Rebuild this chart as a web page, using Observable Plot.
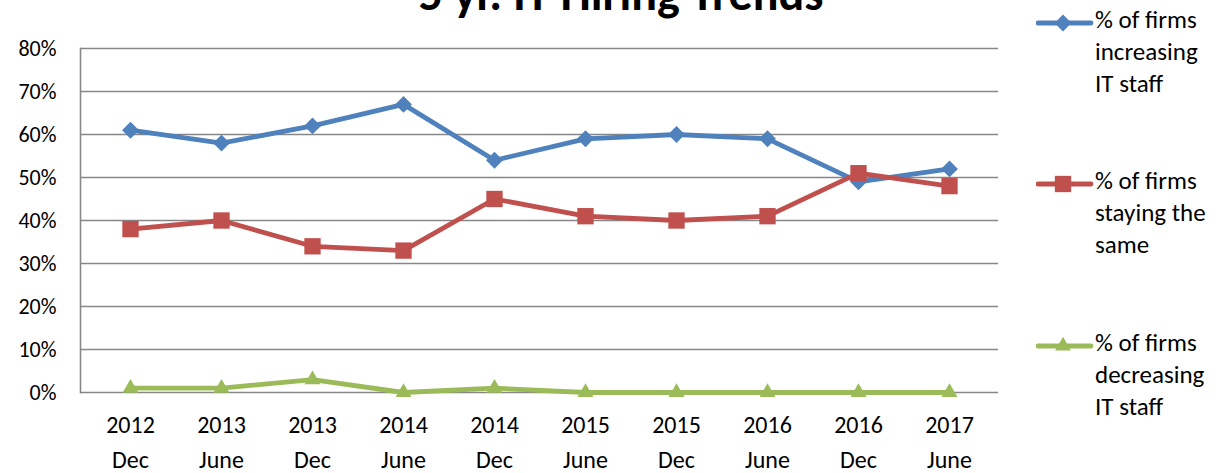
<!DOCTYPE html>
<html>
<head>
<meta charset="utf-8">
<script src="https://cdn.jsdelivr.net/npm/d3@7"></script>
<script src="https://cdn.jsdelivr.net/npm/@observablehq/plot@0.6"></script>
<style>
  html, body { margin: 0; padding: 0; background: #fff; }
  body { width: 1218px; height: 473px; overflow: hidden; position: relative; font-family: Carlito, Lato, "Open Sans", sans-serif; }
  #title { position: absolute; left: 0; width: 1242px; text-align: center; top: -30px; font-size: 48px; font-weight: bold; color: #000; line-height: 1; white-space: nowrap; }
  #chart { position: absolute; left: 0; top: 0; }
  .leg { position: absolute; left: 1036px; font-size: 25px; line-height: 32px; color: #000; }
  .leg svg { position: absolute; left: 0; top: 8px; }
  .leg div { margin-left: 59px; white-space: nowrap; }
</style>
</head>
<body>
<div id="title">5 yr. IT Hiring Trends</div>
<div id="chart"></div>
<div id="legend"></div>
<script>
const periods = ["2012\nDec","2013\nJune","2013\nDec","2014\nJune","2014\nDec","2015\nJune","2015\nDec","2016\nJune","2016\nDec","2017\nJune"];
const increasing = [61, 58, 62, 67, 54, 59, 60, 59, 49, 52];
const staying    = [38, 40, 34, 33, 45, 41, 40, 41, 51, 48];
const decreasing = [1, 1, 3, 0, 1, 0, 0, 0, 0, 0];
const seriesNames = ["% of firms increasing IT staff", "% of firms staying the same", "% of firms decreasing IT staff"];
const legendLines = [["% of firms","increasing","IT staff"],["% of firms","staying the","same"],["% of firms","decreasing","IT staff"]];
const colors = ["#4F81BD", "#C0504D", "#9BBB59"];
const symbols = ["diamond2", "square2", "triangle2"];
const radii = [7.6, 10.4, 7.6];
const yTicks = [0, 10, 20, 30, 40, 50, 60, 70, 80];

const seriesValues = [increasing, staying, decreasing];
const rows = seriesValues.flatMap((vals, s) => vals.map((v, i) => ({period: periods[i], value: v, series: seriesNames[s], si: s})));

const marks = [
  Plot.ruleY(yTicks, {stroke: "#878787", strokeWidth: 1.6}),
  Plot.frame({anchor: "left", stroke: "#878787", strokeWidth: 1.6}),
  Plot.axisY({ticks: yTicks, tickSize: 0, tickPadding: 24, tickFormat: d => d + "%", fontSize: 22, fill: "#000", label: null}),
  Plot.axisX({tickSize: 0, tickPadding: 16, fontSize: 24, lineHeight: 1.46, fill: "#000", label: null})
];
seriesNames.forEach((name, s) => {
  const data = rows.filter(r => r.si === s);
  marks.push(Plot.line(data, {x: "period", y: "value", stroke: colors[s], strokeWidth: 4.8, strokeLinejoin: "round"}));
  marks.push(Plot.dot(data, {x: "period", y: "value", symbol: () => symbols[s], fill: colors[s], stroke: "none", r: radii[s]}));
});

const chart = Plot.plot({
  width: 1218,
  height: 473,
  marginLeft: 80,
  marginRight: 220,
  marginTop: 48,
  marginBottom: 81,
  style: {fontFamily: "Carlito, Lato, 'Open Sans', sans-serif", background: "transparent"},
  x: {type: "point", domain: periods, padding: 0.5, axis: null},
  y: {domain: [0, 80], axis: null},
  symbol: {type: "identity"},
  marks
});
document.getElementById("chart").appendChild(chart);

// legend
const legend = document.getElementById("legend");
const legendTops = [4, 165, 327];
seriesNames.forEach((name, s) => {
  const el = document.createElement("div");
  el.className = "leg";
  el.style.top = legendTops[s] + "px";
  const sw = d3.create("svg").attr("width", 58).attr("height", 22);
  sw.append("line").attr("x1", 2).attr("x2", 55).attr("y1", 11).attr("y2", 11).attr("stroke", colors[s]).attr("stroke-width", 4.8).attr("stroke-linecap", "round");
  const sym = {diamond2: d3.symbolDiamond2, square2: d3.symbolSquare2, triangle2: d3.symbolTriangle2}[symbols[s]];
  sw.append("path").attr("transform", "translate(27,11)").attr("d", d3.symbol(sym, radii[s] * radii[s] * Math.PI)()).attr("fill", colors[s]);
  el.appendChild(sw.node());
  legendLines[s].forEach(t => { const d = document.createElement("div"); d.textContent = t; el.appendChild(d); });
  legend.appendChild(el);
});
</script>
</body>
</html>
